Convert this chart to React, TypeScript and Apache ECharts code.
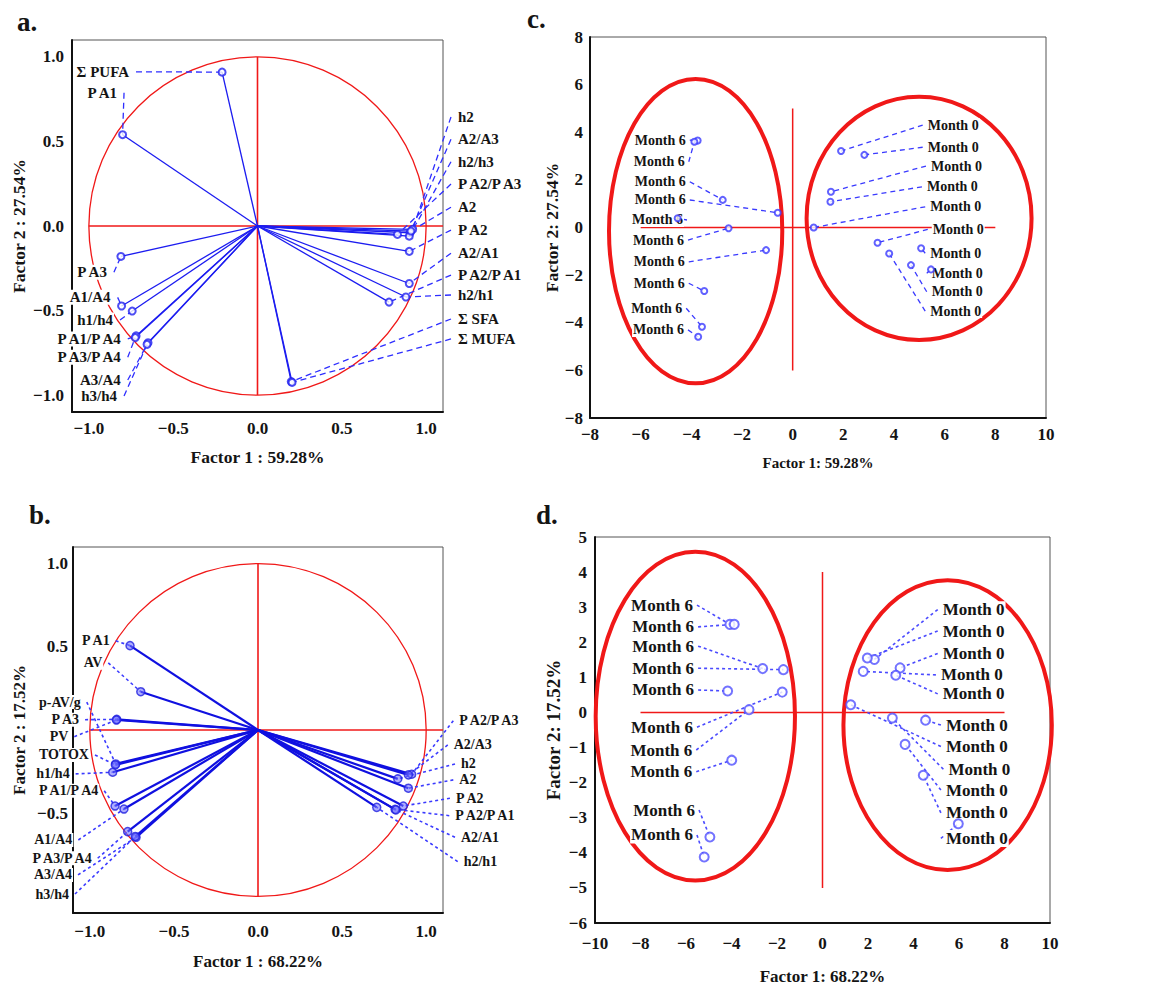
import React, { useEffect, useRef } from "react";
import * as echarts from "echarts";

const FONT = '"Liberation Serif", "Times New Roman", serif';
const INK = "#141414";
const RED = "#f01818";

// ---------------- Panel a (loadings, factor 1 vs 2) ----------------
const aNames = ["Σ PUFA", "P A1", "P A3", "A1/A4", "h1/h4", "P A1/P A4", "P A3/P A4", "A3/A4", "h3/h4",
  "h2", "A2/A3", "h2/h3", "P A2/P A3", "A2", "P A2", "A2/A1", "P A2/P A1", "h2/h1", "Σ SFA", "Σ MUFA"];
const aF1 = [-0.21, -0.80, -0.81, -0.806, -0.743, -0.72, -0.725, -0.649, -0.655,
  0.92, 0.905, 0.90, 0.83, 0.91, 0.90, 0.90, 0.78, 0.88, 0.20, 0.205];
const aF2 = [0.91, 0.54, -0.18, -0.473, -0.503, -0.65, -0.66, -0.69, -0.70,
  -0.02, -0.04, -0.06, -0.05, -0.03, -0.15, -0.34, -0.45, -0.42, -0.92, -0.925];
const aLabelX = [-0.756, -0.827, -0.887, -0.865, -0.851, -0.805, -0.805, -0.805, -0.827,
  1.183, 1.183, 1.183, 1.183, 1.183, 1.183, 1.183, 1.183, 1.183, 1.183, 1.183];
const aLabelY = [0.912, 0.788, -0.274, -0.422, -0.556, -0.668, -0.776, -0.911, -1.005,
  0.645, 0.513, 0.38, 0.248, 0.111, -0.024, -0.161, -0.29, -0.408, -0.55, -0.668];
const aSide = ["L", "L", "L", "L", "L", "L", "L", "L", "L", "R", "R", "R", "R", "R", "R", "R", "R", "R", "R", "R"];

// ---------------- Panel b ----------------
const bNames = ["P A1", "AV", "p-AV/g", "P A3", "PV", "TOTOX", "h1/h4", "P A1/P A4", "A1/A4", "P A3/P A4", "A3/A4", "h3/h4",
  "P A2/P A3", "A2/A3", "h2", "A2", "P A2", "P A2/P A1", "A2/A1", "h2/h1"];
const bF1 = [-0.761, -0.697, -0.846, -0.84, -0.842, -0.848, -0.864, -0.85, -0.797, -0.775, -0.725, -0.73,
  0.914, 0.894, 0.831, 0.894, 0.864, 0.815, 0.82, 0.706];
const bF2 = [0.507, 0.23, -0.204, 0.064, 0.06, -0.21, -0.254, -0.457, -0.475, -0.611, -0.645, -0.64,
  -0.266, -0.27, -0.294, -0.35, -0.457, -0.477, -0.48, -0.465];
const bLabelX = [-0.876, -0.92, -1.048, -1.058, -1.122, -0.999, -1.114, -0.944, -1.098, -0.983, -1.1, -1.118,
  1.191, 1.158, 1.201, 1.191, 1.171, 1.167, 1.201, 1.217];
const bLabelY = [0.537, 0.404, 0.168, 0.062, -0.04, -0.15, -0.264, -0.365, -0.661, -0.771, -0.871, -0.986,
  0.056, -0.09, -0.204, -0.3, -0.41, -0.515, -0.645, -0.791];
const bSide = ["L", "L", "L", "L", "L", "L", "L", "L", "L", "L", "L", "L", "R", "R", "R", "R", "R", "R", "R", "R"];

// ---------------- Panel c (scores) ----------------
const cM6F1 = [-3.75, -3.88, -2.76, -0.59, -4.54, -2.53, -1.05, -3.49, -3.58, -3.73];
const cM6F2 = [3.65, 3.6, 1.16, 0.62, 0.39, -0.03, -0.95, -2.67, -4.17, -4.59];
const cM6LabelX = [-4.18, -4.22, -4.18, -4.18, -4.29, -4.25, -4.22, -4.22, -4.32, -4.25];
const cM6LabelY = [3.67, 2.76, 1.92, 1.155, 0.315, -0.525, -1.44, -2.34, -3.39, -4.3];
const cM0F1 = [1.91, 2.83, 1.51, 1.49, 0.83, 3.35, 5.07, 5.46, 4.67, 3.81];
const cM0F2 = [3.21, 3.05, 1.5, 1.08, 0.0, -0.64, -0.87, -1.76, -1.58, -1.09];
const cM0LabelX = [5.29, 5.29, 5.42, 5.26, 5.39, 5.49, 5.39, 5.45, 5.45, 5.39];
const cM0LabelY = [4.3, 3.37, 2.58, 1.71, 0.87, -0.08, -1.08, -1.92, -2.7, -3.51];
const cEllipses = [[-3.83, -0.15, 3.42, 6.39], [4.99, 0.385, 4.44, 5.105]];
const cCross = [[-6, 0, 8, 0], [0, 5, 0, -6]];

// ---------------- Panel d ----------------
const dM6F1 = [-4.07, -3.88, -2.63, -1.72, -4.17, -1.77, -3.23, -3.99, -4.95, -5.2];
const dM6F2 = [2.51, 2.51, 1.25, 1.22, 0.61, 0.58, 0.08, -1.36, -3.55, -4.12];
const dM6LabelX = [-5.65, -5.6, -5.6, -5.6, -5.6, -5.65, -5.68, -5.68, -5.56, -5.65];
const dM6LabelY = [3.06, 2.44, 1.89, 1.26, 0.64, -0.42, -1.07, -1.69, -2.78, -3.49];
const dM0F1 = [2.28, 1.97, 3.41, 1.79, 3.22, 4.53, 1.24, 3.07, 3.63, 4.43, 5.97];
const dM0F2 = [1.51, 1.55, 1.27, 1.17, 1.06, -0.22, 0.22, -0.16, -0.91, -1.79, -3.17];
const dM0LabelX = [5.24, 5.24, 5.24, 5.16, 5.24, 5.38, 5.38, 5.49, 5.38, 5.38, 5.38];
const dM0LabelY = [2.93, 2.32, 1.68, 1.07, 0.53, -0.36, -0.97, -1.62, -2.21, -2.86, -3.59];
const dEllipses = [[-5.59, -0.105, 4.38, 4.685], [5.5, -0.36, 4.58, 4.13]];
const dCross = [[-8, 0, 8, 0], [0, 4, 0, -5]];

// loadings plot helpers
const unitCircle = [[0, 0, 1, 1]];
const loadCross = [[-1, 0, 1.1, 0], [0, 1, 0, -1]];
const loadTicks = [-1, -0.5, 0, 0.5, 1];
const bYTicks = [-0.5, 0.5, 1]; // 0.0 and -1.0 are hidden behind variable labels in the figure

const zip4 = (xs: number[], ys: number[], lx: number[], ly: number[]) => xs.map((x, i) => [x, ys[i], lx[i], ly[i]]);
const zip2 = (xs: number[], ys: number[]) => xs.map((x, i) => [x, ys[i]]);
const fill = (n: number, v: string) => Array.from({ length: n }, () => v);
const month6 = (n: number) => fill(n, "Month 6");
const month0 = (n: number) => fill(n, "Month 0");

const fmt = (dec: number) => (v: number) => {
  const s = Math.abs(v).toFixed(dec);
  return v < -1e-9 ? "\u2212" + s : s;
};

function shapeSeries(idx: number, data: number[][], lineWidth: number) {
  return {
    type: "custom", xAxisIndex: idx, yAxisIndex: idx, z: 1, silent: true, clip: false, data,
    renderItem: (_p: any, api: any) => {
      const cx = api.value(0), cy = api.value(1), rx = api.value(2), ry = api.value(3);
      const c = api.coord([cx, cy]);
      const ex = api.coord([cx + rx, cy]);
      const ey = api.coord([cx, cy + ry]);
      return {
        type: "ellipse",
        shape: { cx: c[0], cy: c[1], rx: Math.abs(ex[0] - c[0]), ry: Math.abs(ey[1] - c[1]) },
        style: { fill: "none", stroke: RED, lineWidth },
      };
    },
  };
}

function segSeries(idx: number, data: number[][], lineWidth: number) {
  return {
    type: "custom", xAxisIndex: idx, yAxisIndex: idx, z: 1, silent: true, clip: false, data,
    renderItem: (_p: any, api: any) => {
      const a = api.coord([api.value(0), api.value(1)]);
      const b = api.coord([api.value(2), api.value(3)]);
      return { type: "line", shape: { x1: a[0], y1: a[1], x2: b[0], y2: b[1] }, style: { stroke: RED, lineWidth } };
    },
  };
}

function vectorSeries(idx: number, data: number[][], color: string, lineWidth: number) {
  return {
    type: "custom", xAxisIndex: idx, yAxisIndex: idx, z: 3, silent: true, clip: false, data,
    renderItem: (_p: any, api: any) => {
      const o = api.coord([0, 0]);
      const p = api.coord([api.value(0), api.value(1)]);
      return { type: "line", shape: { x1: o[0], y1: o[1], x2: p[0], y2: p[1] }, style: { stroke: color, lineWidth } };
    },
  };
}

function leaderSeries(idx: number, data: number[][], sides: string[], gap: number, dash: number[], color: string, lineWidth: number) {
  return {
    type: "custom", xAxisIndex: idx, yAxisIndex: idx, z: 3, silent: true, clip: false, data,
    renderItem: (params: any, api: any) => {
      const p = api.coord([api.value(0), api.value(1)]);
      const l = api.coord([api.value(2), api.value(3)]);
      const side = sides[params.dataIndex];
      const sx = side === "L" ? l[0] + gap : l[0] - gap;
      return {
        type: "line",
        shape: { x1: sx, y1: l[1], x2: p[0], y2: p[1] },
        style: { stroke: color, lineWidth, lineDash: dash },
      };
    },
  };
}

function labelSeries(idx: number, data: number[][], names: string[], sides: string[], fontSize: number) {
  return {
    type: "custom", xAxisIndex: idx, yAxisIndex: idx, z: 4, silent: true, clip: false, data,
    renderItem: (params: any, api: any) => {
      const l = api.coord([api.value(2), api.value(3)]);
      const side = sides[params.dataIndex];
      return {
        type: "text",
        x: l[0], y: l[1],
        style: {
          text: names[params.dataIndex], fill: INK, fontFamily: FONT, fontWeight: "bold", fontSize,
          align: side === "L" ? "right" : "left", verticalAlign: "middle",
          backgroundColor: "#fff", padding: [0, 1],
        },
      };
    },
  };
}

function markerSeries(idx: number, data: number[][], symbol: string, size: number, itemStyle: any) {
  return {
    type: "scatter", xAxisIndex: idx, yAxisIndex: idx, z: 5, silent: true, data,
    symbol, symbolSize: size, itemStyle,
  };
}

const tickFont = { fontFamily: FONT, fontWeight: "bold" as const, fontSize: 17, color: INK };

function makeAxis(idx: number, dim: "x" | "y", cfg: any) {
  const axis: any = {
    type: "value", gridIndex: idx, min: cfg.min, max: cfg.max,
    name: cfg.name, nameLocation: "middle", nameGap: cfg.nameGap,
    nameTextStyle: { fontFamily: FONT, fontWeight: "bold", fontSize: cfg.nameSize, color: INK },
    axisLine: { show: true, onZero: false, lineStyle: { color: "#111", width: 2 } },
    axisTick: { show: false },
    splitLine: { show: false },
    axisLabel: { ...tickFont, margin: cfg.margin, formatter: fmt(cfg.dec) },
  };
  if (dim === "y") axis.nameRotate = 90;
  if (cfg.interval) axis.interval = cfg.interval;
  if (cfg.custom) axis.axisLabel.customValues = cfg.custom;
  return axis;
}

export default function App() {
  const ref = useRef<HTMLDivElement>(null);
  useEffect(() => {
    if (!ref.current) return;
    const chart = echarts.init(ref.current, undefined, { renderer: "svg" });

    const c6s = fill(cM6F1.length, "L"), c0s = fill(cM0F1.length, "R");
    const d6s = fill(dM6F1.length, "L"), d0s = fill(dM0F1.length, "R");

    const aData = zip4(aF1, aF2, aLabelX, aLabelY);
    const bData = zip4(bF1, bF2, bLabelX, bLabelY);
    const c6 = zip4(cM6F1, cM6F2, cM6LabelX, cM6LabelY);
    const c0 = zip4(cM0F1, cM0F2, cM0LabelX, cM0LabelY);
    const d6 = zip4(dM6F1, dM6F2, dM6LabelX, dM6LabelY);
    const d0 = zip4(dM0F1, dM0F2, dM0LabelX, dM0LabelY);

    const gridStyle = { show: true, borderColor: "#555", borderWidth: 1, backgroundColor: "#fff" };

    const option: any = {
      animation: false,
      backgroundColor: "#fff",
      grid: [
        { left: 72, top: 40, width: 371, height: 372, ...gridStyle },
        { left: 73, top: 547, width: 370, height: 366, ...gridStyle },
        { left: 590, top: 37, width: 456, height: 381, ...gridStyle },
        { left: 595, top: 537, width: 455, height: 386, ...gridStyle },
      ],
      xAxis: [
        makeAxis(0, "x", { min: -1.1, max: 1.1, custom: loadTicks, dec: 1, name: "Factor 1 : 59.28%", nameGap: 36, nameSize: 17.5, margin: 8 }),
        makeAxis(1, "x", { min: -1.1, max: 1.1, custom: loadTicks, dec: 1, name: "Factor 1 : 68.22%", nameGap: 40, nameSize: 17, margin: 10 }),
        makeAxis(2, "x", { min: -8, max: 10, interval: 2, dec: 0, name: "Factor 1: 59.28%", nameGap: 37, nameSize: 15, margin: 8 }),
        makeAxis(3, "x", { min: -10, max: 10, interval: 2, dec: 0, name: "Factor 1: 68.22%", nameGap: 45, nameSize: 17, margin: 12 }),
      ],
      yAxis: [
        makeAxis(0, "y", { min: -1.1, max: 1.1, custom: loadTicks, dec: 1, name: "Factor 2 : 27.54%", nameGap: 44, nameSize: 17.5, margin: 8 }),
        makeAxis(1, "y", { min: -1.1, max: 1.1, custom: bYTicks, dec: 1, name: "Factor 2 : 17.52%", nameGap: 45, nameSize: 17, margin: 5 }),
        makeAxis(2, "y", { min: -8, max: 8, interval: 2, dec: 0, name: "Factor 2: 27.54%", nameGap: 24, nameSize: 17.5, margin: 7 }),
        makeAxis(3, "y", { min: -6, max: 5, interval: 1, dec: 0, name: "Factor 2: 17.52%", nameGap: 32, nameSize: 19, margin: 8 }),
      ],
      graphic: [
        { type: "text", x: 17, y: 22, style: { text: "a.", fill: INK, fontFamily: FONT, fontWeight: "bold", fontSize: 27, verticalAlign: "middle" } },
        { type: "text", x: 29, y: 515, style: { text: "b.", fill: INK, fontFamily: FONT, fontWeight: "bold", fontSize: 27, verticalAlign: "middle" } },
        { type: "text", x: 527, y: 19, style: { text: "c.", fill: INK, fontFamily: FONT, fontWeight: "bold", fontSize: 27, verticalAlign: "middle" } },
        { type: "text", x: 536, y: 515, style: { text: "d.", fill: INK, fontFamily: FONT, fontWeight: "bold", fontSize: 27, verticalAlign: "middle" } },
      ],
      series: [
        // panel a
        shapeSeries(0, unitCircle, 1.3),
        segSeries(0, loadCross, 1.6),
        vectorSeries(0, zip2(aF1, aF2), "#1c1cf0", 1.3),
        leaderSeries(0, aData, aSide, 6, [6, 4], "#2e2eff", 1.3),
        labelSeries(0, aData, aNames, aSide, 15),
        markerSeries(0, zip2(aF1, aF2), "emptyCircle", 7, { color: "#2020f0", borderWidth: 1.2 }),
        // panel b
        shapeSeries(1, unitCircle, 1.3),
        segSeries(1, loadCross, 1.6),
        vectorSeries(1, zip2(bF1, bF2), "#1010e0", 2.2),
        leaderSeries(1, bData, bSide, 5, [3, 3], "#3a3aff", 1.6),
        labelSeries(1, bData, bNames, bSide, 14),
        markerSeries(1, zip2(bF1, bF2), "circle", 8, { color: "rgba(110,110,255,0.7)", borderColor: "#2020e0", borderWidth: 1.5 }),
        // panel c
        shapeSeries(2, cEllipses, 4),
        segSeries(2, cCross, 1.5),
        leaderSeries(2, c6, c6s, 3, [5, 4], "#3a3aff", 1.3),
        leaderSeries(2, c0, c0s, 4, [5, 4], "#3a3aff", 1.3),
        labelSeries(2, c6, month6(c6.length), c6s, 14),
        labelSeries(2, c0, month0(c0.length), c0s, 14),
        markerSeries(2, zip2(cM6F1, cM6F2), "emptyCircle", 6, { color: "#3a3aff", borderWidth: 1.3 }),
        markerSeries(2, zip2(cM0F1, cM0F2), "emptyCircle", 6, { color: "#3a3aff", borderWidth: 1.3 }),
        // panel d
        shapeSeries(3, dEllipses, 4),
        segSeries(3, dCross, 1.5),
        leaderSeries(3, d6, d6s, 3, [3, 3], "#4a4aff", 1.6),
        leaderSeries(3, d0, d0s, 4, [3, 3], "#4a4aff", 1.6),
        labelSeries(3, d6, month6(d6.length), d6s, 17),
        labelSeries(3, d0, month0(d0.length), d0s, 17),
        markerSeries(3, zip2(dM6F1, dM6F2), "emptyCircle", 9, { color: "#5050ff", borderWidth: 1.5 }),
        markerSeries(3, zip2(dM0F1, dM0F2), "emptyCircle", 9, { color: "#5050ff", borderWidth: 1.5 }),
      ],
    };
    chart.setOption(option);
    return () => chart.dispose();
  }, []);
  return <div ref={ref} style={{ position: "absolute", left: 0, top: 0, width: 1160, height: 989, background: "#fff" }} />;
}
